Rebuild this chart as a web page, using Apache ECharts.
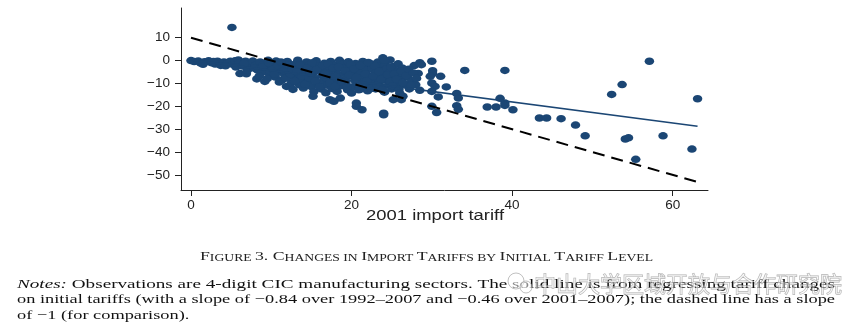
<!DOCTYPE html>
<html><head><meta charset="utf-8">
<script src="https://cdn.jsdelivr.net/npm/echarts@6/dist/echarts.min.js"></script>
<style>html,body{margin:0;padding:0;background:#fff}#c{width:865px;height:322px}</style>
</head><body><div id="c"></div>
<script>
// ---- data ----
const xTicks = [0, 20, 40, 60];
const yTicks = [-50, -40, -30, -20, -10, 0, 10];

// dense cloud of sectors (2001 tariff, change in tariff)
const cloudPoints = [
[0,0],[0.4,-0.4],[0.9,-0.2],[1.2,-1.1],[1.7,-0.5],[2.2,-0.1],[2.5,-0.9],[3,-1.5],[3.3,-0.3],[3.7,-2.1],
[4.1,-0.6],[4.5,-1.3],[4.9,-0.3],[5.2,-1.6],[5.5,-0.1],[5.9,0.3],[6,-1],[6.1,-5.7],[6.4,-2.4],[6.8,-0.3],
[6.9,-5.8],[7.2,-1.5],[7.4,-3.2],[7.7,-0.2],[8,-2.2],[8.2,-8],[8.3,-4.2],[8.6,-0.6],[8.8,-5.3],[9,-1.8],
[9.2,-9.1],[9.3,-3.2],[9.6,0.1],[9.8,-6.1],[9.9,-4.6],[10.1,-1.2],[10.3,-2.9],[10.5,-7.2],[10.6,-0.2],[10.9,-5.1],
[11.1,-3.8],[11.3,-8.6],[11.4,-1.6],[11.7,-6.4],[11.9,-11.3],[12,-0.4],[12.2,-2.8],[12.3,-4.9],[12.5,-9.8],[12.7,-12.6],
[12.8,-7.3],[13,-1.4],[13.1,-3.6],[13.3,0.2],[13.4,-5.8],[13.5,-10.6],[13.7,-8.2],[13.9,-2.4],[14,-12],[14.1,-4.4],
[14.3,-6.7],[14.4,-0.6],[14.6,-9.2],[14.8,-1.8],[15,-3.2],[15,-11.4],[15.2,-5.4],[15.3,-13.6],[15.4,-7.8],[15.6,-0.1],
[15.8,-10.2],[15.9,-2.6],[16.1,-4.6],[16.2,-12.4],[16.3,-6.6],[16.5,-8.8],[16.6,-1.2],[16.8,-14.1],[16.9,-3.7],[17,-10.8],
[17.2,-5.6],[17.4,-0.4],[17.5,-7.4],[17.6,-12.2],[17.8,-9.4],[17.9,-2.2],[18.1,-4.2],[18.2,-13.5],[18.3,-6.2],[18.5,0.1],
[18.6,-8.4],[18.7,-11],[18.9,-1.6],[19,-3.4],[19.1,-5.6],[19.3,-9.8],[19.4,-7.2],[19.5,-12.8],[19.6,-0.5],[19.8,-2.6],
[20,-4.6],[20,-14.2],[20.1,-6.8],[20.2,-11.4],[20.4,-8.6],[20.5,-1.3],[20.7,-10.2],[20.8,-3.2],[21,-5.4],[21.1,-12.5],
[21.2,-7.6],[21.4,-0.4],[21.5,-9.4],[21.6,-2.2],[21.8,-4.2],[22,-13.2],[22,-6.4],[22.2,-11.2],[22.3,-8.4],[22.5,-1.5],
[22.6,-3.6],[22.8,-10],[22.9,-5.6],[23,-12.4],[23.1,-7.4],[23.3,-0.6],[23.4,-2.6],[23.5,-9.2],[23.6,-4.6],[23.8,-11.4],
[23.9,1.2],[24,-6.6],[24.1,-13.8],[24.2,-1.8],[24.3,-8.4],[24.4,-3.6],[24.6,-10.6],[24.7,-5.4],[24.8,0.3],[25,-12.4],
[25,-7.6],[25.2,-2.6],[25.2,-7.2],[25.4,-9.6],[25.5,-4.4],[25.7,-11.6],[25.8,-1.4],[26,-6.1],[26.1,-8.6],[26.3,-3.2],
[26.6,-5.1],[26.7,-10.4],[27,-7.2],[27.2,-12.4],[27.5,-8.8],[27.8,-2.2],[28,-10.6],[28.3,-5.6]
];
// further sectors filling the inside of the cloud
const cloudFill = [
[1.5,-1.6],[2.8,-0.4],[4.3,-2.3],[5.6,-2.8],[6.6,-1.2],[7,-4.3],[7.9,-3.3],[8.5,-6.8],[8.9,-2.9],[9.5,-7.9],
[9.7,-1],[10.2,-3.9],[10.4,-5.9],[10.8,-2.1],[11,-9.4],[11.2,-0.6],[11.6,-4.4],[11.8,-7.7],[12.1,-2],[12.4,-6],
[12.6,-3.8],[12.9,-9],[13.2,-5],[13.6,-1.8],[13.8,-6.8],[14.2,-10.4],[14.5,-3.1],[14.7,-7.6],[14.9,-5.3],[15.1,-0.9],
[15.5,-9],[15.7,-3.9],[16,-11.4],[16.4,-2.1],[16.7,-5.7],[16.9,-7.7],[17.1,-1.6],[17.3,-9.8],[17.7,-3.2],[17.9,-11.3],
[18,-6.8],[18.4,-2.8],[18.8,-9.4],[19.2,-4.4],[19.4,-11.6],[19.7,-6.4],[19.9,-1.6],[20.3,-3.6],[20.6,-7.4],[20.9,-12.8],
[21.1,-2.2],[21.3,-10.4],[21.7,-5.8],[21.9,-8.8],[22.1,-0.8],[22.4,-12.2],[22.7,-6.8],[22.9,-2.4],[23.2,-10.6],[23.4,-4.8],
[23.7,-8.2],[23.9,-12.8],[24.1,0.2],[24.5,-6.2],[24.8,-9.2],[24.9,-2.8],[25.1,-11],[25.3,-5.8],[25.6,-8.2],[25.9,-12.6],
[26.2,-4.6],[26.4,-9.6],[26.8,-6.6],[27.1,-3.8],[27.4,-10.8],[27.7,-5.4],[28.1,-7.8]
];

// scattered sectors outside the main cloud
const outlierPoints = [
[5.1,14.5],[28.5,-0.9],[28.7,-1.8],[30,-0.3],[30.1,-4.4],[30.1,-5.7],[31.1,-6.9],[29.8,-6.9],[34.1,-4.3],[39.1,-4.3],
[30,-9.8],[30.4,-11.3],[31.8,-11.5],[28.5,-13],[30,-13.5],[30.8,-15.9],[33.1,-14.4],[33.3,-16.4],[26,-14.2],[26.4,-15.6],
[30,-20],[30.6,-22.7],[33.1,-19.7],[33.3,-21.3],[36.9,-20.3],[38,-20.3],[38.5,-16.5],[39.1,-18.6],[39.1,-19.6],[40.1,-21.5],
[43.4,-25.1],[44.3,-25.1],[46.1,-25.4],[47.9,-28.2],[49.1,-32.9],[54.1,-34.3],[54.5,-33.8],[55.4,-43.2],[58.8,-32.9],[62.4,-38.7],
[57.1,-0.3],[53.7,-10.5],[52.4,-14.8],[63.1,-16.7],
[24,-23],[24,-23.7],[20.6,-18.6],[20.6,-20],[21.3,-21.5],[17.3,-17.1],[17.8,-17.8],[18.6,-16.4],[15.2,-15.6],[25.2,-17.1],[26.2,-17.1]
];

// fitted line (solid) and slope -1 reference line (dashed)
const fitIntercept = 0.3, fitSlope = -0.46;
const refIntercept = 10, refSlope = -1;

const xAxisTitle = '2001 import tariff';
const captionParts = [['big','F'],['small','IGURE '],['big','3. C'],['small','HANGES IN '],['big','I'],['small','MPORT '],
  ['big','T'],['small','ARIFFS BY '],['big','I'],['small','NITIAL '],['big','T'],['small','ARIFF '],['big','L'],['small','EVEL']];
const notesLines = [
  [['i','Notes:'],['n',' Observations are 4-digit CIC manufacturing sectors. The solid line is from regressing tariff changes']],
  [['n','on initial tariffs (with a slope of \u22120.84 over 1992\u20132007 and \u22120.46 over 2001\u20132007); the dashed line has a slope']],
  [['n','of \u22121 (for comparison).']]
];
const watermarkText = '中山大学区域开放与合作研究院';

// ---- drawing ----
const navy = '#1b4674';
const allPoints = cloudPoints.concat(cloudFill, outlierPoints);
const xs = allPoints.map(p => p[0]);
const xLo = Math.min(...xs), xHi = Math.max(...xs);
const lineOf = (a, b) => [[xLo, a + b * xLo], [xHi, a + b * xHi]];

const mctx = document.createElement('canvas').getContext('2d');
function textWidth(parts, fonts) {
  let w = 0;
  parts.forEach(([k, t]) => { mctx.font = fonts[k]; w += mctx.measureText(t).width; });
  return w;
}
const serif = '"Liberation Serif","Times New Roman",serif';
const sans = '"Liberation Sans",Arial,sans-serif';
const capFonts = { big: '13px ' + serif, small: '10px ' + serif };
const noteFonts = { i: 'italic 13.5px ' + serif, n: '13.5px ' + serif };
const toRich = parts => parts.map(([k, t]) => '{' + k + '|' + t + '}').join('');

const capScale = 453 / textWidth(captionParts, capFonts);
const noteScales = [818 / textWidth(notesLines[0], noteFonts), 818 / textWidth(notesLines[1], noteFonts)];
noteScales.push(noteScales[1]);
mctx.font = '14px ' + sans;
const titleScale = 138 / mctx.measureText(xAxisTitle).width;

const graphics = [];
graphics.push({
  type: 'text', x: 435, y: 216, scaleX: titleScale, silent: true,
  style: { text: xAxisTitle, font: '14px ' + sans, fill: '#222', textAlign: 'center', textVerticalAlign: 'middle' }
});
graphics.push({
  type: 'text', x: 426.5, y: 256, scaleX: capScale, silent: true,
  style: {
    text: toRich(captionParts), textAlign: 'center', textVerticalAlign: 'middle',
    rich: {
      big: { fontFamily: serif, fontSize: 13, fill: '#222', lineHeight: 15, verticalAlign: 'bottom' },
      small: { fontFamily: serif, fontSize: 10, fill: '#222', lineHeight: 15, verticalAlign: 'bottom' }
    }
  }
});
const noteY = [284, 299.5, 315];
notesLines.forEach((parts, i) => {
  graphics.push({
    type: 'text', x: 17, y: noteY[i], scaleX: noteScales[i], silent: true,
    style: {
      text: toRich(parts), textAlign: 'left', textVerticalAlign: 'middle',
      rich: {
        i: { fontFamily: serif, fontStyle: 'italic', fontSize: 13.5, fill: '#111' },
        n: { fontFamily: serif, fontSize: 13.5, fill: '#111' }
      }
    }
  });
});
// watermark overlay
graphics.push({ type: 'circle', shape: { cx: 516, cy: 281, r: 8 }, silent: true,
  style: { fill: 'rgba(255,255,255,0.5)', stroke: 'rgba(150,150,150,0.6)', lineWidth: 1 } });
graphics.push({ type: 'circle', shape: { cx: 526, cy: 287, r: 6 }, silent: true,
  style: { fill: 'rgba(255,255,255,0.5)', stroke: 'rgba(150,150,150,0.6)', lineWidth: 1 } });
graphics.push({
  type: 'text', x: 688, y: 284, silent: true,
  style: { text: watermarkText, font: '22px "Noto Sans CJK SC",sans-serif', fill: 'rgba(255,255,255,0.45)',
    stroke: 'rgba(110,110,110,0.55)', lineWidth: 0.9, textAlign: 'center', textVerticalAlign: 'middle' }
});

const axisCommon = {
  type: 'value', splitLine: { show: false },
  axisLine: { show: true, onZero: false, lineStyle: { color: '#222', width: 1 } },
  axisTick: { show: true, length: 6, lineStyle: { color: '#222', width: 1 } },
};
const chart = echarts.init(document.getElementById('c'), null, { renderer: 'canvas' });
chart.setOption({
  animation: false,
  backgroundColor: '#fff',
  grid: { left: 181, right: 157, top: 8, bottom: 132 },
  xAxis: Object.assign({}, axisCommon, {
    min: -1.245, max: 64.4,
    axisTick: Object.assign({}, axisCommon.axisTick, { customValues: xTicks }),
    axisLabel: { customValues: xTicks, margin: 8, fontFamily: sans, fontSize: 13.5, color: '#222' }
  }),
  yAxis: Object.assign({}, axisCommon, {
    min: -56.6, max: 23,
    axisTick: Object.assign({}, axisCommon.axisTick, { customValues: yTicks }),
    axisLabel: { customValues: yTicks, margin: 11, fontFamily: sans, fontSize: 13.5, color: '#222',
      formatter: v => String(v).replace('-', '\u2212') }
  }),
  series: [
    { type: 'scatter', data: allPoints, symbol: 'circle', symbolSize: [9.5, 7.5], itemStyle: { color: navy, opacity: 1 }, z: 2 },
    { type: 'line', data: lineOf(fitIntercept, fitSlope), symbol: 'none', lineStyle: { color: navy, width: 1.6 }, z: 3 },
    { type: 'line', data: lineOf(refIntercept, refSlope), symbol: 'none', lineStyle: { color: '#000', width: 2, type: [12, 7] }, z: 4 }
  ],
  graphic: graphics
});
</script></body></html>
